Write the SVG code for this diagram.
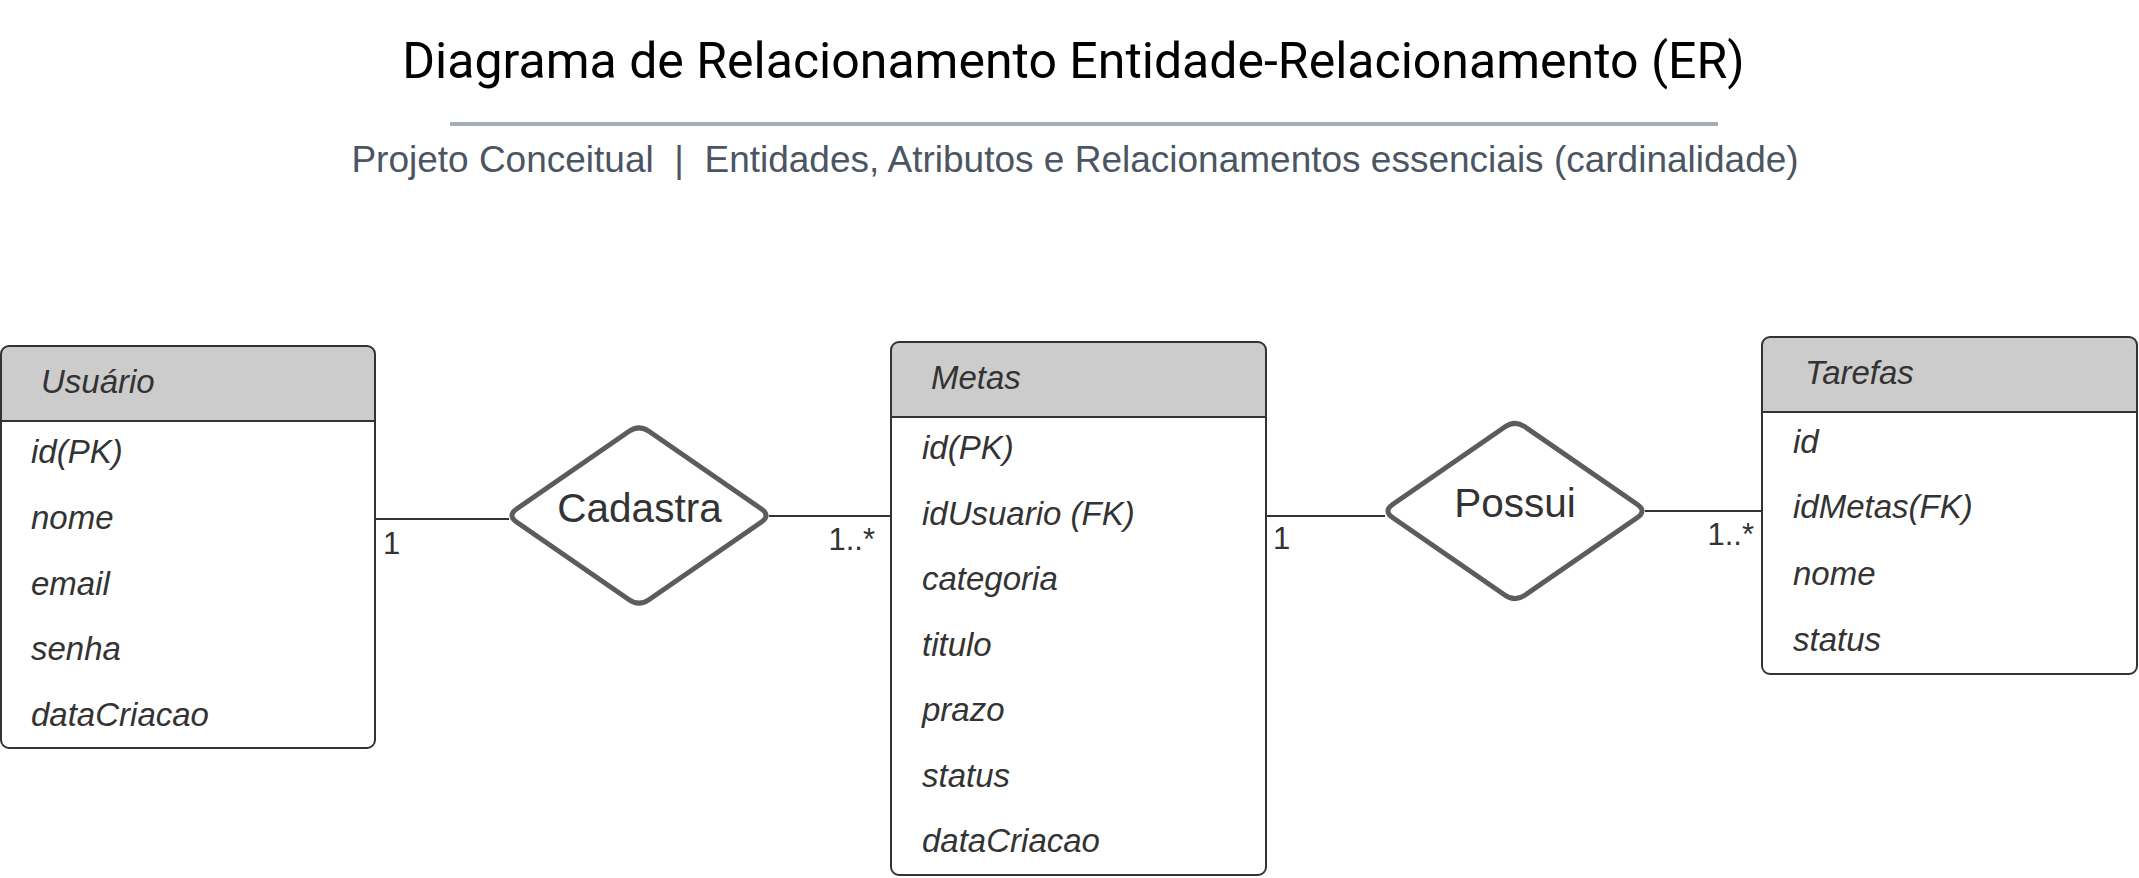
<svg xmlns="http://www.w3.org/2000/svg" width="2139" height="878" viewBox="0 0 2139 878">
  <style>
    .title { font-family: Roboto, "Liberation Sans", sans-serif; font-size: 50px; fill: #000000; }
    .subtitle { font-family: "Liberation Sans", Arial, sans-serif; font-size: 37px; fill: #4b5563; white-space: pre; }
    .box { fill: none; stroke: #333333; stroke-width: 2; }
    .head { fill: #cccccc; stroke: none; }
    .divider { stroke: #333333; stroke-width: 2; }
    .ent { font-family: "Liberation Sans", Arial, sans-serif; font-size: 33px; font-style: italic; fill: #333333; }
    .rel { fill: #ffffff; stroke: #5c5c5c; stroke-width: 5; stroke-linejoin: round; }
    .reltext { font-family: "Liberation Sans", Arial, sans-serif; font-size: 40.5px; fill: #333333; text-anchor: middle; }
    .conn { stroke: #333333; stroke-width: 2; fill: none; }
    .card { font-family: "Liberation Sans", Arial, sans-serif; font-size: 31px; fill: #333333; }
  </style>
  <defs>
    <path id="diamond" d="M -122.1,-6.8 L -9.9,-84.2 Q 0,-91 9.9,-84.2 L 122.1,-6.8 Q 132,0 122.1,6.8 L 9.9,84.2 Q 0,91 -9.9,84.2 L -122.1,6.8 Q -132,0 -122.1,-6.8 Z"/>
  </defs>
  <rect x="0" y="0" width="2139" height="878" fill="#ffffff"/>

  <g id="header">
    <text class="title" x="1073.5" y="78" text-anchor="middle">Diagrama de Relacionamento Entidade-Relacionamento (ER)</text>
    <line x1="450" y1="124" x2="1718" y2="124" stroke="#a8aeb8" stroke-width="4"/>
    <text class="subtitle" x="1075" y="172" text-anchor="middle" xml:space="preserve">Projeto Conceitual  |  Entidades, Atributos e Relacionamentos essenciais (cardinalidade)</text>
  </g>

  <g id="connectors">
    <line class="conn" x1="376" y1="519" x2="509" y2="519"/>
    <line class="conn" x1="769" y1="516" x2="891" y2="516"/>
    <line class="conn" x1="1266" y1="516" x2="1385" y2="516"/>
    <line class="conn" x1="1645" y1="511" x2="1762" y2="511"/>
    <text class="card" x="383" y="554">1</text>
    <text class="card" x="875" y="550" text-anchor="end">1..*</text>
    <text class="card" x="1273" y="549">1</text>
    <text class="card" x="1754" y="545" text-anchor="end">1..*</text>
  </g>

  <g id="usuario">
    <path class="head" d="M 1,421 L 1,354 Q 1,346 9,346 L 367,346 Q 375,346 375,354 L 375,421 Z"/>
    <rect class="box" x="1" y="346" width="374" height="402" rx="8" ry="8"/>
    <line class="divider" x1="1" y1="421" x2="375" y2="421"/>
    <text class="ent" x="41" y="393">Usuário</text>
    <text class="ent" x="31" y="463">id(PK)</text>
    <text class="ent" x="31" y="529">nome</text>
    <text class="ent" x="31" y="595">email</text>
    <text class="ent" x="31" y="660">senha</text>
    <text class="ent" x="31" y="726">dataCriacao</text>
  </g>

  <g id="cadastra">
    <use href="#diamond" class="rel" transform="translate(639,515.5)"/>
    <text class="reltext" x="639.5" y="522">Cadastra</text>
  </g>

  <g id="metas">
    <path class="head" d="M 891,417 L 891,350 Q 891,342 899,342 L 1258,342 Q 1266,342 1266,350 L 1266,417 Z"/>
    <rect class="box" x="891" y="342" width="375" height="533" rx="8" ry="8"/>
    <line class="divider" x1="891" y1="417" x2="1266" y2="417"/>
    <text class="ent" x="931" y="389">Metas</text>
    <text class="ent" x="922" y="459">id(PK)</text>
    <text class="ent" x="922" y="524.5">idUsuario (FK)</text>
    <text class="ent" x="922" y="590">categoria</text>
    <text class="ent" x="922" y="655.5">titulo</text>
    <text class="ent" x="922" y="721">prazo</text>
    <text class="ent" x="922" y="786.5">status</text>
    <text class="ent" x="922" y="852">dataCriacao</text>
  </g>

  <g id="possui">
    <use href="#diamond" class="rel" transform="translate(1515,511)"/>
    <text class="reltext" x="1515" y="517">Possui</text>
  </g>

  <g id="tarefas">
    <path class="head" d="M 1762,412 L 1762,345 Q 1762,337 1770,337 L 2129,337 Q 2137,337 2137,345 L 2137,412 Z"/>
    <rect class="box" x="1762" y="337" width="375" height="337" rx="8" ry="8"/>
    <line class="divider" x1="1762" y1="412" x2="2137" y2="412"/>
    <text class="ent" x="1805" y="384">Tarefas</text>
    <text class="ent" x="1793" y="453">id</text>
    <text class="ent" x="1793" y="518">idMetas(FK)</text>
    <text class="ent" x="1793" y="585">nome</text>
    <text class="ent" x="1793" y="651">status</text>
  </g>
</svg>
